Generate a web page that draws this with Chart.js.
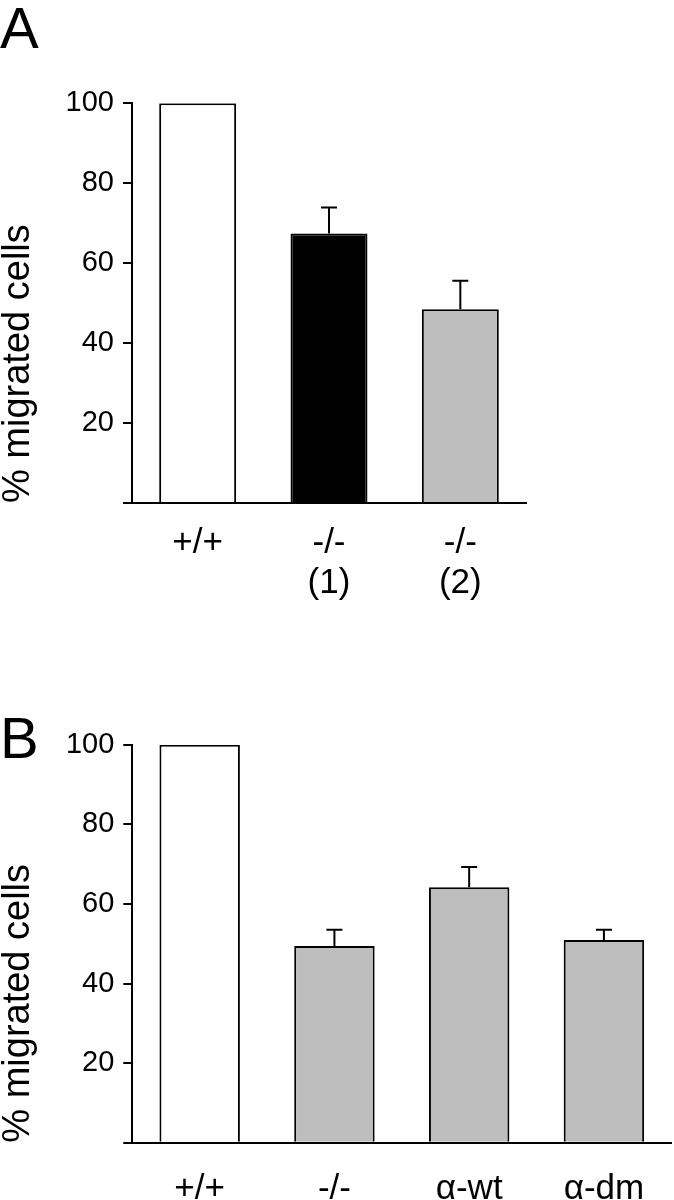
<!DOCTYPE html>
<html>
<head>
<meta charset="utf-8">
<title>% migrated cells</title>
<style>
  body { margin: 0; background: #fff; }
  #page { position: relative; width: 674px; height: 1200px; overflow: hidden; }
  .panel { position: absolute; left: 0; width: 674px; }
  .letter { position: absolute; left: 0; font-family: "Liberation Sans", Arial, sans-serif; font-size: 58px; line-height: 1; color: #000; }
</style>
</head>
<body>
<div id="page">
  <div class="letter" style="top:-1px;">A</div>
  <div class="panel" style="top:0px;height:620px;"><canvas id="chartA" width="674" height="620"></canvas></div>
  <div class="panel" style="top:620px;height:580px;"><canvas id="chartB" width="674" height="580"></canvas></div>
  <div class="letter" style="top:709px;">B</div>
</div>
<script src="https://cdn.jsdelivr.net/npm/chart.js@4/dist/chart.umd.min.js"></script>
<script>
// panel A
const labelsA = ['+/+', ['-/-', '(1)'], ['-/-', '(2)']];
const valuesA = [100, 67.4, 48.5];
const errorsA = [0, 6.5, 7.1];
// panel B
const labelsB = ['+/+', '-/-', 'α-wt', 'α-dm'];
const valuesB = [100, 49.4, 64.2, 50.9];
const errorsB = [0, 4.1, 5.1, 2.6];
// shared y axis
const yMin = 0;
const yMax = 100;
const yStep = 20;
const yTitle = '% migrated cells';

const WHITE = '#ffffff', BLACK = '#000000', GREY = '#bebebe';
const FONT = '"Liberation Sans", Arial, sans-serif';

// draws the upward error whiskers from the bar tops
const errorBars = {
    id: 'errorBars',
    afterDatasetsDraw(chart, args, opts) {
        const ctx = chart.ctx;
        const y = chart.scales.y;
        const data = chart.data.datasets[0].data;
        ctx.save();
        ctx.strokeStyle = BLACK;
        ctx.lineWidth = 2;
        chart.getDatasetMeta(0).data.forEach(function(bar, i) {
            const err = opts.errors[i];
            if (!err) return;
            const top = y.getPixelForValue(data[i] + err);
            ctx.beginPath();
            ctx.moveTo(bar.x, bar.y);
            ctx.lineTo(bar.x, top);
            ctx.moveTo(bar.x - 8, top);
            ctx.lineTo(bar.x + 8, top);
            ctx.stroke();
        });
        ctx.restore();
    }
};

function makeChart(id, labels, values, errors, fills, box) {
    return new Chart(document.getElementById(id), {
        type: 'bar',
        data: {
            labels: labels,
            datasets: [{
                data: values,
                backgroundColor: fills,
                borderColor: BLACK,
                borderWidth: 2,
                barPercentage: box.bar,
                categoryPercentage: 1
            }]
        },
        plugins: [errorBars],
        options: {
            responsive: false,
            animation: false,
            events: [],
            layout: { padding: { left: 0, top: box.top, right: box.right, bottom: 0 } },
            plugins: {
                legend: { display: false },
                tooltip: { enabled: false },
                errorBars: { errors: errors }
            },
            scales: {
                x: {
                    offset: true,
                    grid: { display: false, drawTicks: false },
                    border: { display: true, color: BLACK, width: 2 },
                    ticks: {
                        color: BLACK,
                        padding: box.labelPad,
                        maxRotation: 0,
                        autoSkip: false,
                        font: { family: FONT, size: 35, lineHeight: 1.15 }
                    },
                    afterFit: function(s) { s.height = box.xHeight; }
                },
                y: {
                    min: yMin,
                    max: yMax,
                    grid: { drawOnChartArea: false, drawTicks: true, tickLength: 9, color: BLACK, lineWidth: 2 },
                    border: { display: true, color: BLACK, width: 2 },
                    ticks: {
                        stepSize: yStep,
                        color: BLACK,
                        padding: 9,
                        font: { family: FONT, size: 29 },
                        callback: function(v) { return v === 0 ? '' : v; }
                    },
                    title: {
                        display: true,
                        text: yTitle,
                        align: 'start',
                        color: BLACK,
                        padding: 0,
                        font: { family: FONT, size: 38, lineHeight: 1.0 }
                    },
                    afterFit: function(s) { s.width = box.yWidth; }
                }
            }
        }
    });
}

makeChart('chartA', labelsA, valuesA, errorsA, [WHITE, BLACK, GREY],
    { top: 103.3, right: 148, yWidth: 132, xHeight: 117, labelPad: 20, bar: 0.586 });
makeChart('chartB', labelsB, valuesB, errorsB, [WHITE, GREY, GREY, GREY],
    { top: 124.7, right: 2.7, yWidth: 132.3, xHeight: 57.3, labelPad: 27, bar: 0.597 });
</script>
</body>
</html>
